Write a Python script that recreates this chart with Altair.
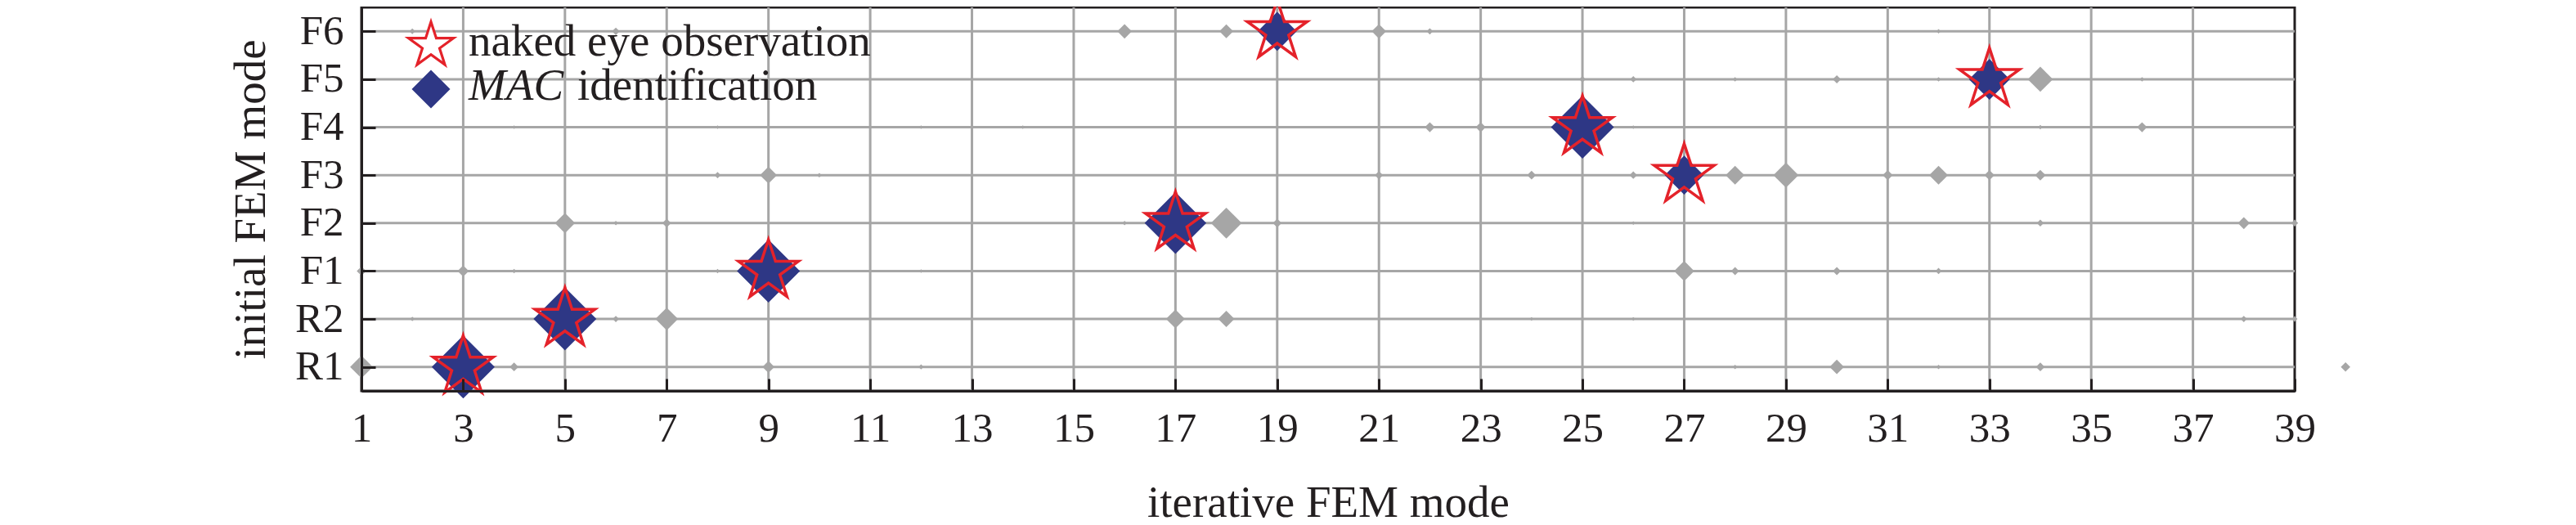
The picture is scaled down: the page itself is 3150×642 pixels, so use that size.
import math
import altair as alt
import pandas as pd

# ---------------- data ----------------
rows_top_down = ["F6", "F5", "F4", "F3", "F2", "F1", "R2", "R1"]
x_ticks = list(range(1, 40, 2))

# gray diamonds: MAC values of the other mode pairs, per initial FEM mode
r1_modes = [1, 4, 9, 12, 28, 30, 32, 34, 40]
r1_mac = [0.36, 0.14, 0.19, 0.08, 0.07, 0.23, 0.07, 0.14, 0.15]
r2_modes = [2, 6, 7, 17, 18, 24, 26, 38, 39]
r2_mac = [0.07, 0.10, 0.36, 0.30, 0.26, 0.06, 0.06, 0.10, 0.09]
f1_modes = [1, 3, 4, 8, 12, 13, 27, 28, 30, 31, 32]
f1_mac = [0.15, 0.18, 0.07, 0.07, 0.06, 0.06, 0.32, 0.13, 0.13, 0.06, 0.10]
f2_modes = [5, 6, 7, 11, 16, 18, 19, 26, 31, 33, 34, 37, 38, 39]
f2_mac = [0.32, 0.07, 0.14, 0.06, 0.07, 0.49, 0.14, 0.06, 0.06, 0.06, 0.11, 0.06, 0.19, 0.11]
f3_modes = [8, 9, 10, 21, 24, 26, 28, 29, 31, 32, 33, 34]
f3_mac = [0.10, 0.27, 0.07, 0.13, 0.14, 0.12, 0.30, 0.40, 0.16, 0.30, 0.16, 0.17]
f4_modes = [4, 8, 12, 13, 14, 22, 23, 26, 34, 36]
f4_mac = [0.06, 0.06, 0.06, 0.07, 0.06, 0.16, 0.16, 0.06, 0.07, 0.16]
f5_modes = [3, 15, 23, 25, 26, 28, 30, 32, 34, 36, 37]
f5_mac = [0.05, 0.06, 0.10, 0.10, 0.10, 0.07, 0.13, 0.07, 0.40, 0.07, 0.07]
f6_modes = [2, 6, 15, 16, 18, 21, 22, 32, 37]
f6_mac = [0.09, 0.12, 0.05, 0.23, 0.22, 0.23, 0.10, 0.07, 0.07]

# MAC identification (blue diamonds)
mac_rows = ["R1", "R2", "F1", "F2", "F3", "F4", "F5", "F6"]
mac_modes = [3, 5, 9, 17, 27, 25, 33, 19]
mac_values = [1.0, 1.0, 1.0, 0.98, 0.62, 1.0, 0.65, 0.62]

# naked eye observation (red stars)
eye_rows = ["R1", "R2", "F1", "F2", "F3", "F4", "F5", "F6"]
eye_modes = [3, 5, 9, 17, 27, 25, 33, 19]

legend_labels = ["naked eye observation", "MAC", "identification"]

# ---------------- styles ----------------
BLACK = "#231f20"
GRAY = "#a6a6a6"
BLUE = "#2e3785"
RED = "#e4222a"
FONT = "Liberation Serif, Times New Roman, serif"
W, H = 2364, 469

# five-pointed star symbol path in the [-1, 1] box
pts = []
for k in range(10):
    r = 1.0 if k % 2 == 0 else 0.382
    a = math.radians(-90 + 36 * k)
    pts.append(f"{r * math.cos(a):.4f},{r * math.sin(a):.4f}")
STAR = "M" + "L".join(pts) + "Z"

# ---------------- tables ----------------
gray_parts = [("R1", r1_modes, r1_mac), ("R2", r2_modes, r2_mac),
              ("F1", f1_modes, f1_mac), ("F2", f2_modes, f2_mac),
              ("F3", f3_modes, f3_mac), ("F4", f4_modes, f4_mac),
              ("F5", f5_modes, f5_mac), ("F6", f6_modes, f6_mac)]
gray_df = pd.DataFrame([{"x": m, "y": row, "mac": v}
                        for row, ms, vs in gray_parts for m, v in zip(ms, vs)])
mac_df = pd.DataFrame({"x": mac_modes, "y": mac_rows, "mac": mac_values})
eye_df = pd.DataFrame({"x": eye_modes, "y": eye_rows})
vgrid_df = pd.DataFrame({"x": x_ticks[1:-1]})
hgrid_df = pd.DataFrame({"y": rows_top_down})
one_df = pd.DataFrame({"k": [0]})

x_scale = alt.Scale(domain=[1, 39], nice=False, zero=False)
y_scale = alt.Scale(type="point", domain=rows_top_down, padding=0.5)
size_scale = alt.Scale(type="pow", exponent=2, domain=[0, 1], range=[0, 5929])

x_axis = alt.Axis(values=x_ticks, format="d", title="iterative FEM mode", grid=False,
                  zindex=1, domainColor=BLACK, domainWidth=3, tickColor=BLACK,
                  tickWidth=3, tickSize={"expr": "-15"}, labelPadding=36,
                  labelFont=FONT, labelFontSize=51, labelColor=BLACK,
                  labelFlush=False, labelOverlap=False,
                  titleFont=FONT, titleFontSize=55, titleFontWeight="normal",
                  titleColor=BLACK, titleY=153, titleX=W / 2,
                  titleBaseline="alphabetic", titleAlign="center")
y_axis = alt.Axis(title="initial FEM mode", grid=False, zindex=1,
                  domainColor=BLACK, domainWidth=3, tickColor=BLACK, tickWidth=3,
                  tickSize={"expr": "-17"}, labelPadding=39,
                  labelFont=FONT, labelFontSize=51, labelColor=BLACK,
                  titleFont=FONT, titleFontSize=55, titleFontWeight="normal",
                  titleColor=BLACK, titleAngle=270, titleX=-119, titleY=H / 2,
                  titleBaseline="alphabetic", titleAlign="center")

X = alt.X("x:Q", scale=x_scale, axis=x_axis)
Y = alt.Y("y:N", scale=y_scale, axis=y_axis)

vgrid = alt.Chart(vgrid_df).mark_rule(color=GRAY, strokeWidth=3).encode(x=X)
hgrid = alt.Chart(hgrid_df).mark_rule(color=GRAY, strokeWidth=3).encode(y=Y)

gray = alt.Chart(gray_df).mark_point(shape="diamond", filled=True, color=GRAY,
                                     opacity=1, strokeWidth=0).encode(
    x=X, y=Y, size=alt.Size("mac:Q", scale=size_scale, legend=None))
blue = alt.Chart(mac_df).mark_point(shape="diamond", filled=True, color=BLUE,
                                    opacity=1, strokeWidth=0).encode(
    x=X, y=Y, size=alt.Size("mac:Q", scale=size_scale, legend=None))
stars = alt.Chart(eye_df).mark_point(shape=STAR, filled=False, stroke=RED,
                                     strokeWidth=3.5, opacity=1, size=5929,
                                     strokeJoin="miter").encode(x=X, y=Y)

# legend (top-left inside the plot)
leg_star = alt.Chart(one_df).mark_point(shape=STAR, filled=True, fill="white",
                                        stroke=RED, strokeWidth=3.2, opacity=1,
                                        size=3340).encode(
    x=alt.value(85), y=alt.value(46.6))
leg_diamond = alt.Chart(one_df).mark_point(shape="diamond", filled=True, color=BLUE,
                                           opacity=1, strokeWidth=0, size=2209).encode(
    x=alt.value(85), y=alt.value(100))
leg_t1 = alt.Chart(one_df).mark_text(text=legend_labels[0], font=FONT, fontSize=55,
                                     color=BLACK, align="left",
                                     baseline="alphabetic").encode(
    x=alt.value(131), y=alt.value(59.3))
leg_t2 = alt.Chart(one_df).mark_text(text=legend_labels[1], font=FONT, fontSize=55,
                                     fontStyle="italic", color=BLACK, align="left",
                                     baseline="alphabetic").encode(
    x=alt.value(131), y=alt.value(113.3))
leg_t3 = alt.Chart(one_df).mark_text(text=legend_labels[2], font=FONT, fontSize=55,
                                     color=BLACK, align="left",
                                     baseline="alphabetic").encode(
    x=alt.value(264), y=alt.value(113.3))

chart = alt.layer(vgrid, hgrid, gray, blue, stars,
                  leg_star, leg_diamond, leg_t1, leg_t2, leg_t3).properties(
    width=W, height=H,
    autosize=alt.AutoSizeParams(type="none"),
    padding={"left": 434, "top": 1, "right": 100, "bottom": 155},
    background="white",
).configure_view(stroke=BLACK, strokeWidth=3)

chart.save("out.html", embed_options={"renderer": "svg", "actions": False})
